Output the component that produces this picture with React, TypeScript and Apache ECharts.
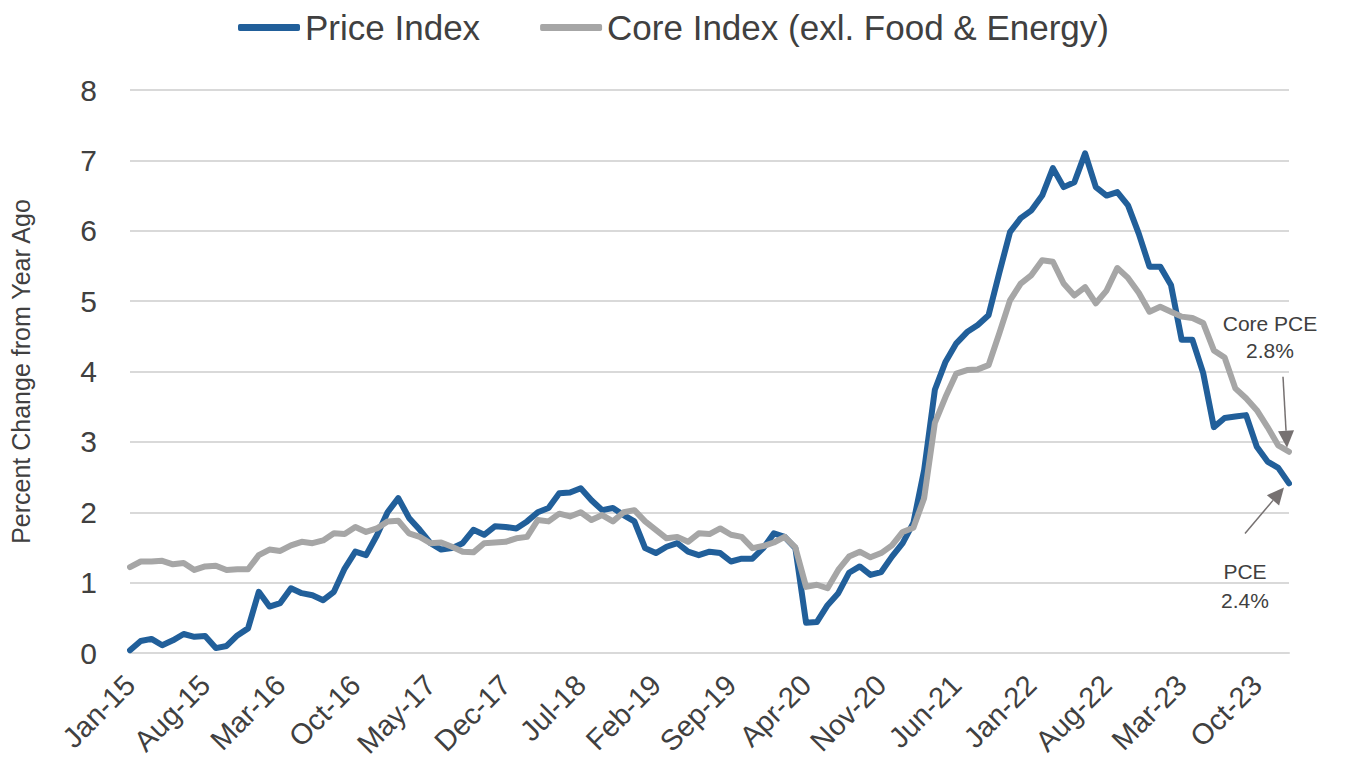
import React, { useEffect, useRef } from "react";
import * as echarts from "echarts";

const MONTH_NAMES = ["Jan", "Feb", "Mar", "Apr", "May", "Jun", "Jul", "Aug", "Sep", "Oct", "Nov", "Dec"];
const YEARS = ["15", "16", "17", "18", "19", "20", "21", "22", "23", "24"];
const LAST_YEAR_MONTHS = 1; // data ends Jan-24

const categories: string[] = [];
YEARS.forEach((y, yi) => {
  const n = yi === YEARS.length - 1 ? LAST_YEAR_MONTHS : 12;
  for (let m = 0; m < n; m++) categories.push(`${MONTH_NAMES[m]}-${y}`);
});

const priceIndex = [
  0.04, 0.17, 0.2, 0.11, 0.18, 0.27, 0.23, 0.24, 0.07, 0.1, 0.25, 0.35,
  0.87, 0.66, 0.71, 0.92, 0.85, 0.82, 0.75, 0.87, 1.2, 1.44, 1.39, 1.67,
  2.0, 2.2, 1.92, 1.75, 1.56, 1.47, 1.49, 1.56, 1.75, 1.68, 1.8, 1.79,
  1.77, 1.87, 2.0, 2.06, 2.27, 2.28, 2.34, 2.17, 2.03, 2.06, 1.96, 1.87,
  1.49, 1.42, 1.51, 1.56, 1.44, 1.39, 1.44, 1.42, 1.3, 1.34, 1.34, 1.49,
  1.7, 1.65, 1.49, 0.43, 0.44, 0.68, 0.85, 1.14, 1.23, 1.11, 1.15, 1.37,
  1.56, 1.85, 2.6, 3.74, 4.14, 4.4, 4.56, 4.66, 4.8, 5.4, 5.98, 6.18,
  6.29, 6.5, 6.89, 6.62, 6.69, 7.1, 6.62, 6.5, 6.55, 6.36, 5.96, 5.49,
  5.49, 5.23, 4.45, 4.45, 3.98, 3.21, 3.34, 3.36, 3.38, 2.93, 2.72, 2.63,
  2.41,
];

const coreIndex = [
  1.22, 1.3, 1.3, 1.31, 1.26, 1.28, 1.18, 1.23, 1.24, 1.18, 1.19, 1.19,
  1.39, 1.47, 1.45, 1.53, 1.58, 1.56, 1.6, 1.7, 1.69, 1.79, 1.72, 1.77,
  1.87, 1.88, 1.7, 1.65, 1.56, 1.57, 1.51, 1.44, 1.43, 1.56, 1.57, 1.58,
  1.63, 1.65, 1.89, 1.87, 1.98, 1.94, 2.0, 1.89, 1.96, 1.87, 2.0, 2.03,
  1.87, 1.75, 1.63, 1.65, 1.58, 1.7, 1.69, 1.77, 1.68, 1.65, 1.49, 1.52,
  1.57, 1.65, 1.5, 0.94, 0.97, 0.92, 1.18, 1.37, 1.44, 1.36, 1.42, 1.53,
  1.72, 1.78, 2.2, 3.27, 3.64, 3.97, 4.02, 4.03, 4.09, 4.54, 5.01, 5.25,
  5.37, 5.58, 5.56, 5.25, 5.08, 5.2, 4.97, 5.15, 5.47, 5.33, 5.12, 4.85,
  4.92, 4.85, 4.78, 4.76, 4.69, 4.3, 4.2, 3.76, 3.62, 3.45, 3.21, 2.95,
  2.86,
];

const Y_TICKS = [0, 8, 1]; // min, max, interval
const SERIES_NAMES = ["Price Index", "Core Index (exl. Food & Energy)"];
const ANNOTATIONS = [
  { lines: ["Core PCE", "2.8%"] },
  { lines: ["PCE", "2.4%"] },
];

const FONT = "'Liberation Sans', Arial, Helvetica, sans-serif";
const TEXT = "#404040";
const BLUE = "#215f9a";
const GRAY = "#a6a6a6";
const ARROW = "#767171";

function arrow(x1: number, y1: number, x2: number, y2: number) {
  const dx = x2 - x1;
  const dy = y2 - y1;
  const len = Math.sqrt(dx * dx + dy * dy);
  const ux = dx / len;
  const uy = dy / len;
  const headLen = 17;
  const headHalf = 8;
  const bx = x2 - ux * headLen;
  const by = y2 - uy * headLen;
  return [
    {
      type: "line",
      shape: { x1, y1, x2: bx, y2: by },
      style: { stroke: ARROW, lineWidth: 1.5 },
      silent: true,
    },
    {
      type: "polygon",
      shape: {
        points: [
          [x2, y2],
          [bx - uy * headHalf, by + ux * headHalf],
          [bx + uy * headHalf, by - ux * headHalf],
        ],
      },
      style: { fill: ARROW },
      silent: true,
    },
  ];
}

export default function App() {
  const ref = useRef<HTMLDivElement>(null);

  useEffect(() => {
    if (!ref.current) return;
    const chart = echarts.init(ref.current, null, { renderer: "svg" });
    chart.setOption({
      animation: false,
      textStyle: { fontFamily: FONT },
      legend: {
        top: 5,
        left: "center",
        icon: "roundRect",
        itemWidth: 62,
        itemHeight: 7,
        itemGap: 60,
        textStyle: { fontSize: 35, color: TEXT, fontFamily: FONT },
        data: SERIES_NAMES,
      },
      grid: { left: 121, right: 58, top: 90, bottom: 120 },
      xAxis: {
        type: "category",
        data: categories,
        boundaryGap: false,
        axisTick: { show: false },
        axisLine: { lineStyle: { color: "#d9d9d9", width: 2 } },
        axisLabel: {
          interval: 6,
          rotate: 45,
          fontSize: 29,
          color: TEXT,
          margin: 27,
          fontFamily: FONT,
        },
      },
      yAxis: {
        type: "value",
        min: Y_TICKS[0],
        max: Y_TICKS[1],
        interval: Y_TICKS[2],
        name: "Percent Change from Year Ago",
        nameLocation: "middle",
        nameGap: 97,
        nameTextStyle: { fontSize: 25, color: TEXT, fontFamily: FONT },
        axisLine: { show: false },
        axisTick: { show: false },
        axisLabel: { fontSize: 30, color: TEXT, margin: 33, fontFamily: FONT },
        splitLine: { lineStyle: { color: "#d9d9d9", width: 2 } },
      },
      series: [
        {
          name: SERIES_NAMES[0],
          type: "line",
          data: priceIndex,
          symbol: "none",
          lineStyle: { color: BLUE, width: 6, cap: "round", join: "round" },
          itemStyle: { color: BLUE },
        },
        {
          name: SERIES_NAMES[1],
          type: "line",
          data: coreIndex,
          symbol: "none",
          lineStyle: { color: GRAY, width: 6, cap: "round", join: "round" },
          itemStyle: { color: GRAY },
        },
      ],
    });

    const last = categories.length - 1;
    const pCore = chart.convertToPixel({ gridIndex: 0 }, [last, coreIndex[last]]) as number[];
    const pPce = chart.convertToPixel({ gridIndex: 0 }, [last, priceIndex[last]]) as number[];

    const textEl = (x: number, y: number, t: string) => ({
      type: "text",
      x,
      y,
      silent: true,
      style: {
        text: t,
        fill: TEXT,
        font: `21px ${FONT}`,
        align: "center",
        verticalAlign: "middle",
      },
    });

    chart.setOption({
      graphic: [
        textEl(pCore[0] - 19, pCore[1] - 128, ANNOTATIONS[0].lines[0]),
        textEl(pCore[0] - 19, pCore[1] - 101, ANNOTATIONS[0].lines[1]),
        ...arrow(pCore[0] - 6, pCore[1] - 75, pCore[0] - 2, pCore[1] - 4),
        textEl(pPce[0] - 44, pPce[1] + 88, ANNOTATIONS[1].lines[0]),
        textEl(pPce[0] - 44, pPce[1] + 117, ANNOTATIONS[1].lines[1]),
        ...arrow(pPce[0] - 44, pPce[1] + 50, pPce[0] - 5, pPce[1] + 4),
      ],
    });

    return () => chart.dispose();
  }, []);

  return (
    <div
      ref={ref}
      style={{ position: "absolute", left: 0, top: 0, width: 1347, height: 773 }}
    />
  );
}
